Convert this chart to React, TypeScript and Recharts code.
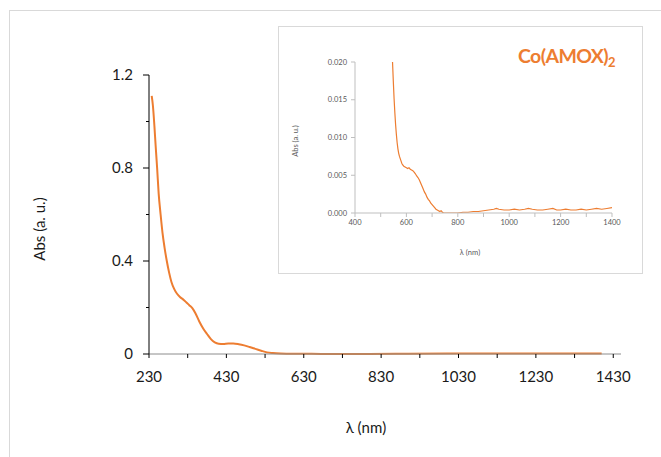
import { LineChart, Line, XAxis, YAxis } from 'recharts';

// main spectrum (full range)
const mainNm = [
  237, 240, 244, 247, 251, 255, 260, 265, 270, 276, 282, 288, 295, 302, 310, 318, 326, 334, 342, 350,
  360, 370, 380, 390, 400, 410, 422, 435, 448, 462, 476, 490, 505, 520, 535, 550, 570, 600, 650, 700,
  750, 800, 900, 1000, 1100, 1200, 1300, 1400,
];
const mainAbs = [
  1.11, 1.07, 0.98, 0.9, 0.8, 0.69, 0.6, 0.52, 0.46, 0.4, 0.35, 0.31, 0.28, 0.26, 0.245, 0.235, 0.223,
  0.21, 0.197, 0.175, 0.14, 0.11, 0.086, 0.064, 0.05, 0.044, 0.043, 0.045, 0.045, 0.042, 0.037, 0.03,
  0.022, 0.014, 0.007, 0.004, 0.002, 0.001, 0.001, 0, 0, 0, 0.001, 0.002, 0.002, 0.002, 0.002, 0.002,
];

// zoomed spectrum (inset)
const insetNm = [
  546, 549, 552, 555, 558, 561, 564, 567, 570, 573, 576, 579, 582, 585, 590, 595, 600, 605, 610, 615,
  620, 625, 630, 635, 640, 645, 650, 655, 660, 665, 670, 675, 680, 685, 690, 695, 700, 705, 710, 715,
  720, 725, 730, 735, 740, 745, 760, 780, 800, 820, 840, 860, 880, 900, 920, 940, 950, 960, 980, 1000,
  1020, 1040, 1060, 1075, 1090, 1110, 1130, 1150, 1170, 1185, 1200, 1220, 1240, 1260, 1280, 1300,
  1320, 1340, 1360, 1380, 1400,
];
const insetAbs = [
  0.02, 0.0175, 0.0152, 0.0133, 0.0117, 0.0104, 0.0093, 0.0085, 0.0079, 0.0075, 0.0072, 0.0069, 0.0066,
  0.0064, 0.0062, 0.0061, 0.006, 0.0059, 0.006, 0.0058, 0.0057, 0.0056, 0.0054, 0.0052, 0.0049, 0.0047,
  0.0044, 0.004, 0.0036, 0.0032, 0.0028, 0.0025, 0.0021, 0.0018, 0.0016, 0.0013, 0.0011, 0.0009,
  0.0007, 0.0005, 0.0004, 0.0003, 0.0002, 0.0003, 0.0001, 0, 0, 0, 0, 0.0001, 0.0001, 0.0002, 0.0002,
  0.0003, 0.0004, 0.0005, 0.0006, 0.0005, 0.0004, 0.0004, 0.0005, 0.0004, 0.0005, 0.0006, 0.0005,
  0.0004, 0.0004, 0.0005, 0.0006, 0.0004, 0.0004, 0.0005, 0.0004, 0.0004, 0.0005, 0.0004, 0.0005,
  0.0006, 0.0005, 0.0006, 0.0007,
];

const mainXTicks = [230, 330, 430, 530, 630, 730, 830, 930, 1030, 1130, 1230, 1330, 1430];
const mainYTicks = [0, 0.2, 0.4, 0.6, 0.8, 1, 1.2];
const mainYLabels = ['0', '', '0.4', '', '0.8', '', '1.2'];
const insetXTicks = [400, 500, 600, 700, 800, 900, 1000, 1100, 1200, 1300, 1400];
const insetYTicks = [0, 0.005, 0.01, 0.015, 0.02];

const mainData = mainNm.map((nm, i) => ({ nm, abs: mainAbs[i] }));
const insetData = insetNm.map((nm, i) => ({ nm, abs: insetAbs[i] }));

const ORANGE = '#ED7D31';
const FONT = 'Lato, "Liberation Sans", sans-serif';

// y ticks on the main chart: long marks at labelled values, short ones between
const MainYTick = (props: any) => {
  const { x, y, index } = props;
  const axisX = x + 16;
  const label = mainYLabels[index] ?? '';
  const len = label ? 6 : 3;
  return (
    <g>
      <line x1={axisX - len} x2={axisX} y1={y} y2={y} stroke='#000' />
      <text x={x} y={y} dy='0.36em' textAnchor='end' fontSize={15} fill='#1a1a1a' fontFamily={FONT}>
        {label}
      </text>
    </g>
  );
};

export default function App() {
  return (
    <div style={{ position: 'relative', width: 661, height: 457, background: '#fff', fontFamily: FONT }}>
      <style>{'body{margin:0}'}</style>
      <LineChart width={661} height={457} data={mainData} margin={{ top: 75, right: 40, bottom: 73, left: 89 }}>
        <XAxis
          dataKey='nm'
          type='number'
          domain={[230, 1450]}
          ticks={mainXTicks}
          interval={0}
          height={30}
          tickSize={4}
          tickMargin={13}
          axisLine={{ stroke: '#8c8c8c' }}
          tickLine={{ stroke: '#000' }}
          tick={{ fontSize: 15, fill: '#1a1a1a', fontFamily: FONT }}
          tickFormatter={(v: number) => ((v - 230) % 200 === 0 ? String(v) : '')}
        />
        <YAxis
          type='number'
          domain={[0, 1.2]}
          ticks={mainYTicks}
          interval={0}
          width={60}
          tickSize={6}
          tickMargin={10}
          axisLine={{ stroke: '#000' }}
          tickLine={false}
          tick={MainYTick}
        />
        <Line
          dataKey='abs'
          type='monotone'
          stroke={ORANGE}
          strokeWidth={2}
          dot={false}
          isAnimationActive={false}
        />
      </LineChart>

      <div
        style={{
          position: 'absolute',
          left: 278,
          top: 26,
          width: 365,
          height: 248,
          boxSizing: 'border-box',
          border: '1px solid #d9d9d9',
          background: '#fff',
        }}
      >
        <LineChart width={363} height={246} data={insetData} margin={{ top: 35, right: 30, bottom: 40, left: 36 }}>
          <XAxis
            dataKey='nm'
            type='number'
            domain={[400, 1400]}
            allowDataOverflow
            ticks={insetXTicks}
            interval={0}
            height={20}
            tickSize={4}
            tickMargin={3}
            axisLine={{ stroke: '#bfbfbf' }}
            tickLine={{ stroke: '#bfbfbf' }}
            tick={{ fontSize: 7.5, fill: '#595959', fontFamily: FONT }}
            tickFormatter={(v: number) => ((v - 400) % 200 === 0 ? String(v) : '')}
          />
          <YAxis
            type='number'
            domain={[0, 0.02]}
            allowDataOverflow
            ticks={insetYTicks}
            interval={0}
            width={40}
            tickSize={4}
            tickMargin={4}
            axisLine={{ stroke: '#bfbfbf' }}
            tickLine={{ stroke: '#bfbfbf' }}
            tick={{ fontSize: 7.5, fill: '#595959', fontFamily: FONT }}
            tickFormatter={(v: number) => v.toFixed(3)}
          />
          <Line
            dataKey='abs'
            type='linear'
            stroke={ORANGE}
            strokeWidth={1.2}
            dot={false}
            isAnimationActive={false}
          />
        </LineChart>
      </div>

      <svg
        width={661}
        height={457}
        style={{ position: 'absolute', left: 0, top: 0, pointerEvents: 'none' }}
        fontFamily={FONT}
      >
        <rect x={9.5} y={10.5} width={700} height={500} fill='none' stroke='#d9d9d9' />
        <text x={40} y={229} transform='rotate(-90 40 229)' textAnchor='middle' dy='0.35em' fontSize={15} fill='#1a1a1a'>
          Abs (a. u.)
        </text>
        <text x={366} y={428} textAnchor='middle' dy='0.35em' fontSize={15} fill='#1a1a1a'>
          λ (nm)
        </text>
        <text x={295} y={141} transform='rotate(-90 295 141)' textAnchor='middle' dy='0.35em' fontSize={7.5} fill='#595959'>
          Abs (a. u.)
        </text>
        <text x={470} y={252} textAnchor='middle' dy='0.35em' fontSize={7.5} fill='#595959'>
          λ (nm)
        </text>
        <text x={518} y={63} fontSize={19.5} fontWeight={700} letterSpacing={-0.6} fill={ORANGE}>
          Co(AMOX)
          <tspan fontSize={13} dy={4}>
            2
          </tspan>
        </text>
      </svg>
    </div>
  );
}
